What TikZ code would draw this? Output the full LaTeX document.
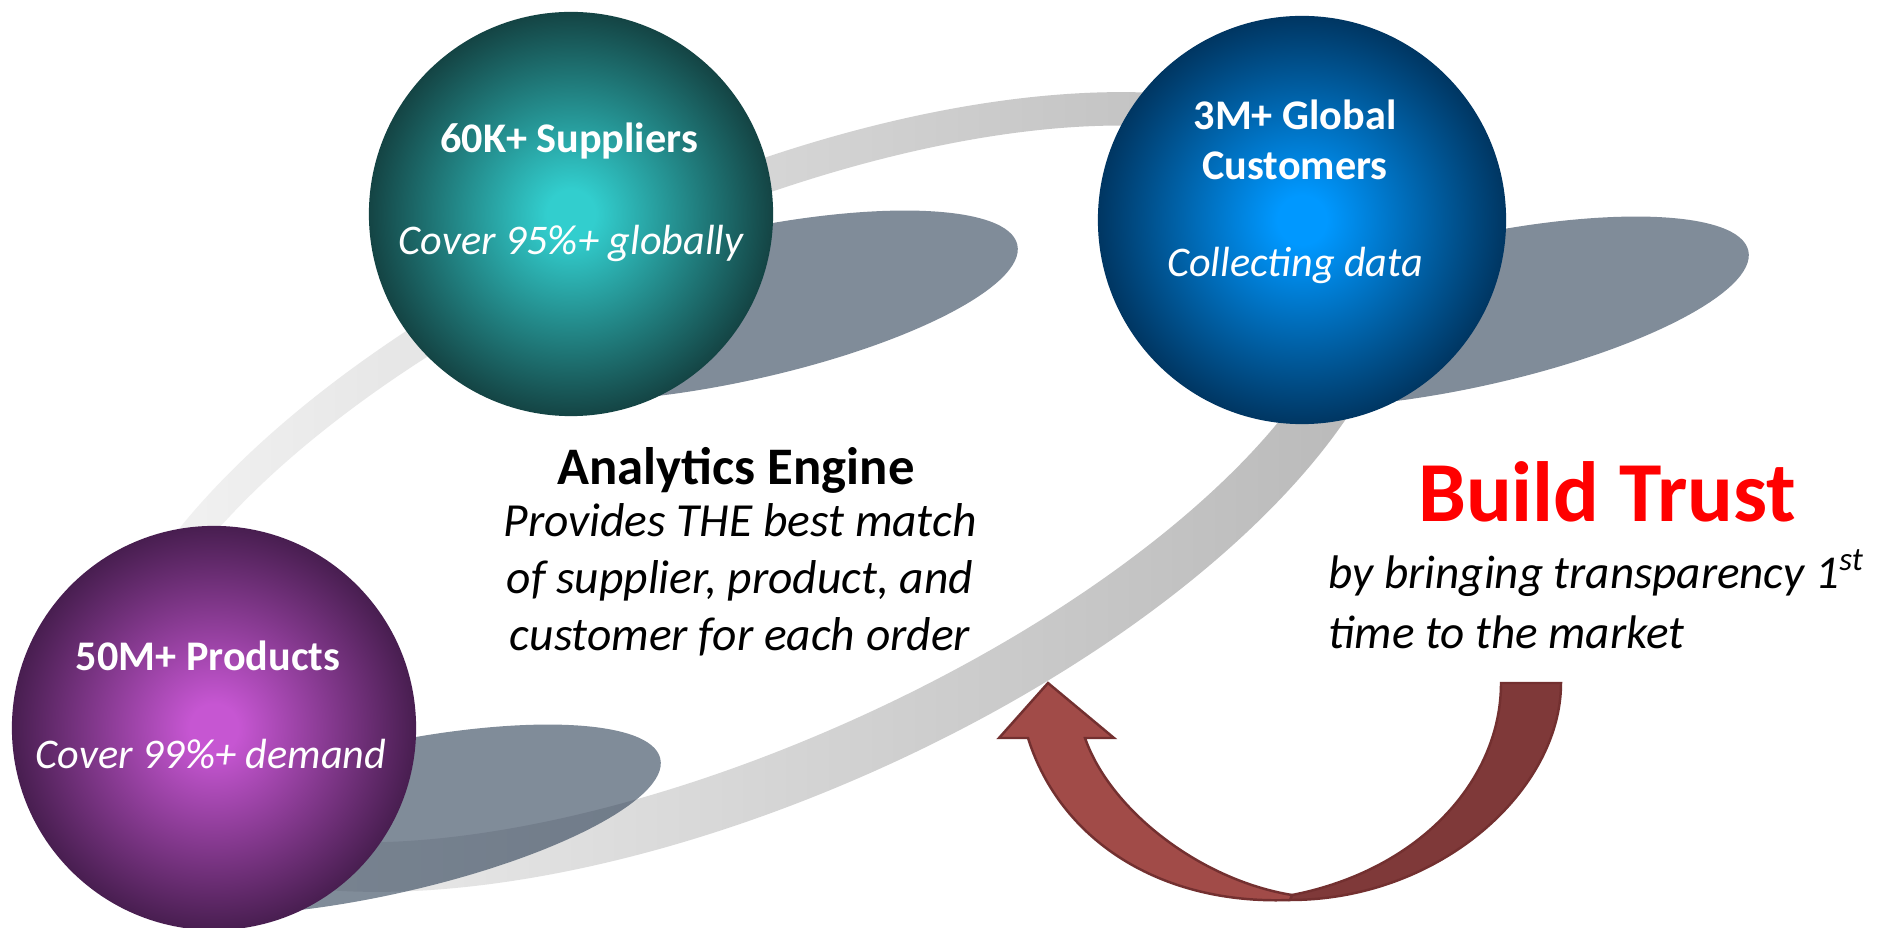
\documentclass[tikz,border=0pt]{standalone}
\usepackage{fontspec}
\setmainfont{Carlito}
\usetikzlibrary{calc,positioning}

\definecolor{tealhi}{RGB}{50,206,206}
\definecolor{tealdk}{RGB}{20,68,68}
\definecolor{bluehi}{RGB}{0,152,255}
\definecolor{bluedk}{RGB}{0,54,98}
\definecolor{plumhi}{RGB}{198,86,210}
\definecolor{plumdk}{RGB}{72,30,80}
\definecolor{shadowgray}{RGB}{30,50,74}
\definecolor{arrowlight}{RGB}{161,75,72}
\definecolor{arrowdark}{RGB}{127,57,57}
\definecolor{arrowline}{RGB}{115,48,48}

\pgfdeclareradialshading{tealball}{\pgfpoint{0bp}{0bp}}{color(0bp)=(tealhi); color(3bp)=(tealhi); color(25bp)=(tealdk); color(50bp)=(tealdk)}
\pgfdeclareradialshading{blueball}{\pgfpoint{0bp}{0bp}}{color(0bp)=(bluehi); color(3bp)=(bluehi); color(25bp)=(bluedk); color(50bp)=(bluedk)}
\pgfdeclareradialshading{plumball}{\pgfpoint{0bp}{0bp}}{color(0bp)=(plumhi); color(3bp)=(plumhi); color(25bp)=(plumdk); color(50bp)=(plumdk)}

\begin{document}
\begin{tikzpicture}
  [x=0.01cm, y=0.01cm,
  ball/.style={circle, minimum size=4.04cm, inner sep=0pt},
  balltitle/.style={text=white, anchor=base, font=\fontsize{12}{14.5}\selectfont\bfseries},
  ballnote/.style={text=white, anchor=base, font=\fontsize{12}{14.5}\selectfont\itshape},
  blot/.style={fill=shadowgray, fill opacity=0.56},
  bodytext/.style={anchor=base, inner sep=0pt, font=\fontsize{13.5}{16.1}\selectfont\itshape}]
  \fill[white] (0,0) rectangle (1888,927);
  \useasboundingbox (0,0) rectangle (1888,927);
  \coordinate (supc) at (571,713);
  \coordinate (cusc) at (1302,707);
  \coordinate (proc) at (214,199);
  % the ring behind everything
  \shade[even odd rule, left color=gray!6, right color=gray!58]
    (749,435) ellipse [x radius=703, y radius=306, rotate=24]
    (741,443) ellipse [x radius=658, y radius=261, rotate=24];
  % shadows
  \fill[blot] ($(supc)+(168,-92)$) ellipse [x radius=285, y radius=75, rotate=12.4];
  \fill[blot] ($(cusc)+(168,-92)$) ellipse [x radius=285, y radius=75, rotate=12.4];
  \fill[blot] ($(proc)+(168,-92)$) ellipse [x radius=285, y radius=75, rotate=12.4];
  % spheres
  \node (sup) [ball, shading=tealball] at (supc) {};
  \node (cus) [ball, shading=blueball, minimum size=4.08cm] at (cusc) {};
  \node (pro) [ball, shading=plumball] at (proc) {};
  \node (suptitle) [balltitle] at ($(sup)+(-2,61)$) {60K+ Suppliers};
  \node (supnote)  [ballnote]  at ($(sup)+(0,-41)$) {Cover 95\%+ globally};
  \node (custitle) [balltitle, align=center] at ($(cus)+(-7,40)$) {3M+ Global\\Customers};
  \node (cusnote)  [ballnote]  at ($(cus)+(-7,-57)$) {Collecting data};
  \node (protitle) [balltitle] at ($(pro)+(-6,57)$) {50M+ Products};
  \node (pronote)  [ballnote]  at ($(pro)+(-3,-40)$) {Cover 99\%+ demand};
  % centre text
  \node (engine) [anchor=base, font=\fontsize{15}{18}\selectfont\bfseries] at (736,442) {Analytics Engine};
  \node (match) [bodytext, align=center] at (740,277) {Provides THE best match\\of supplier, product, and\\customer for each order};
  % right text
  \node (trust) [anchor=base, text=red, font=\fontsize{24.3}{29}\selectfont\bfseries] at (1607,405) {Build Trust};
  \node (first) [bodytext, anchor=base west, align=left, font=\fontsize{13.4}{17.1}\selectfont\itshape] at (1328,278) {by bringing transparency 1\textsuperscript{st}\\time to the market};
  % curved arrow
  \filldraw[fill=arrowdark, draw=arrowline, line width=0.7pt]
    (1501,244) -- (1561,244) .. controls (1561,137) and (1440,27) .. (1290,27)
    -- (1292,32) .. controls (1420,57) and (1501,147) .. (1501,244) -- cycle;
  \filldraw[fill=arrowlight, draw=arrowline, line width=0.7pt]
    (1290,27) .. controls (1160,22) and (1060,87) .. (1028,189)
    -- (999,189) -- (1048,244) -- (1114,189) -- (1085,189)
    .. controls (1110,117) and (1200,47) .. (1292,32) -- cycle;
\end{tikzpicture}
\end{document}
